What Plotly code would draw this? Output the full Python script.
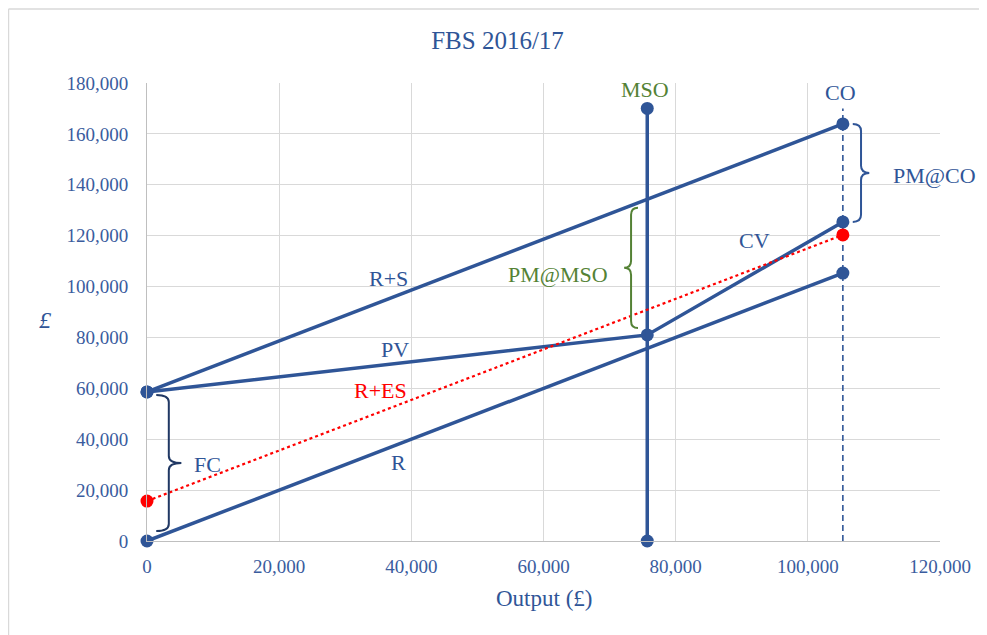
import plotly.graph_objects as go

# ---- data ----
FC = 58600            # fixed cost / start of R+S and PV
MSO = 75700           # margin of safety output
CO = 105300           # current output
PV_MSO = 81000        # PV value at MSO
CV_CO = 125400        # CV value at CO
RES_0 = 15700         # R+ES intercept
RES_CO = 120300       # R+ES at CO
V_TOP = 170000        # top of the vertical MSO / CO lines

r_x = [0, CO]
r_y = [0, CO]
rs_x = [0, CO]
rs_y = [FC, CO + FC]
pv_x = [0, MSO, CO]
pv_y = [FC, PV_MSO, CV_CO]
res_x = [0, CO]
res_y = [RES_0, RES_CO]
mso_x = [MSO, MSO]
mso_y = [0, V_TOP]
co_x = [CO, CO]
co_y = [0, V_TOP]

x_ticks = [0, 20000, 40000, 60000, 80000, 100000, 120000]
y_ticks = [0, 20000, 40000, 60000, 80000, 100000, 120000, 140000, 160000, 180000]

BLUE = "#2F5597"
NAVY = "#203864"
GREEN = "#548235"
RED = "#FF0000"
TICK = "#3A5C9E"
FONT = "Liberation Serif"

fig = go.Figure()

line = dict(color=BLUE, width=3.5)
mk = dict(color=BLUE, size=13)

fig.add_trace(go.Scatter(x=co_x, y=co_y, mode="lines",
                         line=dict(color=BLUE, width=1.6, dash="6px,4px")))
fig.add_trace(go.Scatter(x=r_x, y=r_y, mode="lines+markers", line=line, marker=mk,
                         cliponaxis=False))
fig.add_trace(go.Scatter(x=rs_x, y=rs_y, mode="lines+markers", line=line, marker=mk,
                         cliponaxis=False))
fig.add_trace(go.Scatter(x=pv_x, y=pv_y, mode="lines+markers", line=line, marker=mk,
                         cliponaxis=False))
fig.add_trace(go.Scatter(x=mso_x, y=mso_y, mode="lines+markers", line=line, marker=mk,
                         cliponaxis=False))
fig.add_trace(go.Scatter(x=res_x, y=res_y, mode="lines+markers",
                         line=dict(color=RED, width=2.2, dash="dot"),
                         marker=dict(color=RED, size=13), cliponaxis=False))


def brace(x0, y1, y2, w, d, color, ytip=None):
    h = w * 0.5
    ym = (y1 + y2) / 2 if ytip is None else ytip
    r = 2800
    xa = x0 + h * d
    xt = x0 + w * d
    p = (f"M {x0},{y1} Q {xa},{y1} {xa},{y1 + r} L {xa},{ym - r} "
         f"Q {xa},{ym} {xt},{ym} Q {xa},{ym} {xa},{ym + r} "
         f"L {xa},{y2 - r} Q {xa},{y2} {x0},{y2}")
    return dict(type="path", path=p, xref="x", yref="y",
                line=dict(color=color, width=2))


shapes = [
    brace(1400, 3900, FC - 1200, 3800, 1, NAVY),
    brace(MSO - 1400, PV_MSO + 2700, MSO + FC - 3300, 2100, -1, GREEN),
    brace(CO + 1500, CV_CO, CO + FC, 2500, 1, BLUE),
    dict(type="line", xref="paper", yref="paper",
         x0=-0.1747, x1=1.06, y0=1.1616, y1=1.1616,
         line=dict(color="#d9d9d9", width=1.5), layer="below"),
    dict(type="line", xref="paper", yref="paper",
         x0=-0.1747, x1=-0.1747, y0=1.1616, y1=-0.25,
         line=dict(color="#d9d9d9", width=1.5), layer="below"),
]

ann = [
    dict(x=36500, y=103200, text="R+S", font=dict(color=BLUE)),
    dict(x=37500, y=75300, text="PV", font=dict(color=BLUE)),
    dict(x=35300, y=59000, text="R+ES", font=dict(color=RED)),
    dict(x=38000, y=31000, text="R", font=dict(color=BLUE)),
    dict(x=91950, y=118100, text="CV", font=dict(color=BLUE)),
    dict(x=75300, y=177500, text="MSO", font=dict(color=GREEN)),
    dict(x=104900, y=176300, text="CO", font=dict(color=BLUE)),
    dict(x=70100, y=104800, text="PM@MSO", font=dict(color=GREEN), xanchor="right"),
    dict(x=119200, y=143500, text="PM@CO", font=dict(color=BLUE)),
    dict(x=9200, y=30100, text="FC", font=dict(color=BLUE)),
    dict(x=-0.1274, y=0.4825, xref="paper", yref="paper", text="<i>£</i>",
         font=dict(color=BLUE, size=24)),
    dict(x=0.5, y=-0.1245, xref="paper", yref="paper", text="Output (£)",
         font=dict(color=BLUE, size=23)),
]
for a in ann:
    a.setdefault("showarrow", False)
    a.setdefault("xanchor", "center")
    a.setdefault("yanchor", "middle")
    a.setdefault("xref", "x")
    a.setdefault("yref", "y")
    a["font"] = dict(family=FONT, size=a["font"].get("size", 22), color=a["font"]["color"])

fig.update_layout(
    width=979, height=627,
    margin=dict(l=139, r=47, t=75, b=94),
    paper_bgcolor="white", plot_bgcolor="white",
    showlegend=False,
    font=dict(family=FONT, color=BLUE, size=19),
    title=dict(text="FBS 2016/17", x=0.5, xanchor="center", y=0.949, yanchor="middle",
               font=dict(family=FONT, size=25, color=BLUE)),
    shapes=shapes,
    annotations=ann,
    xaxis=dict(range=[0, 120000], tickvals=x_ticks, tickformat=",",
               showgrid=True, gridcolor="#d9d9d9", gridwidth=1,
               showline=True, linecolor="#bfbfbf", linewidth=1,
               zeroline=False, ticks="outside", ticklen=8, tickcolor="rgba(0,0,0,0)",
               tickfont=dict(family=FONT, size=19, color=TICK)),
    yaxis=dict(range=[0, 180000], tickvals=y_ticks, tickformat=",",
               showgrid=True, gridcolor="#d9d9d9", gridwidth=1,
               showline=True, linecolor="#bfbfbf", linewidth=1,
               zeroline=False, ticks="outside", ticklen=14, tickcolor="rgba(0,0,0,0)",
               tickfont=dict(family=FONT, size=19, color=TICK)),
)

fig.write_html("out.html")
